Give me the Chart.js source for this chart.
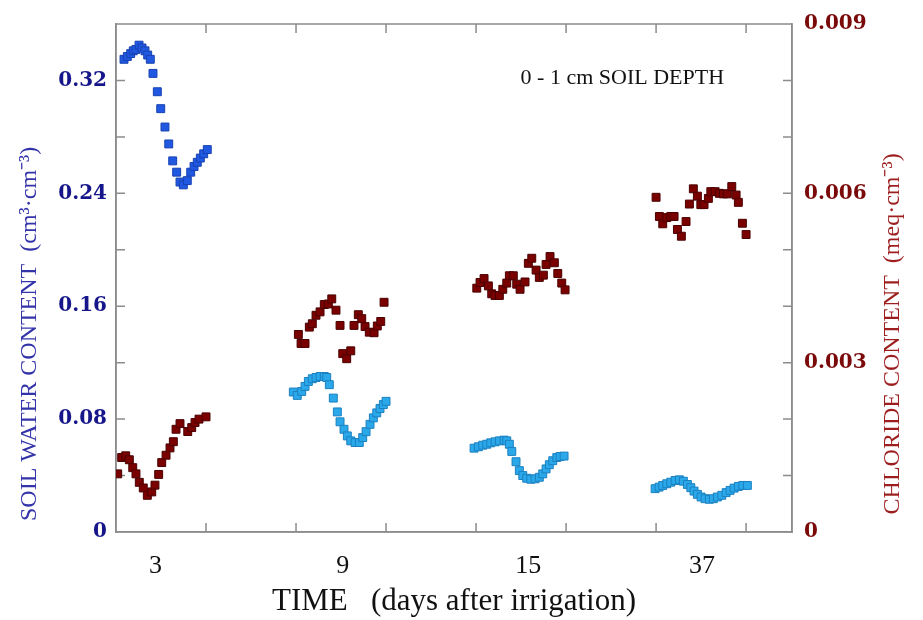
<!DOCTYPE html>
<html><head><meta charset="utf-8">
<script src="https://cdn.jsdelivr.net/npm/chart.js@4.4.1/dist/chart.umd.min.js"></script>
<style>html,body{margin:0;padding:0;background:#fff;}</style>
</head><body>
<canvas id="c" width="923" height="620"></canvas>
<script>
// ---- tick labels / categories / texts ----
const dayLabels = ['3', '9', '15', '37'];
const dayLabelPos = [0.44, 2.52, 4.58, 6.51];
const waterTicks = [0, 0.08, 0.16, 0.24, 0.32];
const chlorideTicks = [0, 0.003, 0.006, 0.009];
const panelNote = '0 - 1 cm SOIL DEPTH';
const waterTitle = 'SOIL WATER CONTENT  (cm³·cm⁻³)';
const chlorideTitle = 'CHLORIDE CONTENT  (meq·cm⁻³)';
const timeTitle = 'TIME   (days after irrigation)';

// ---- day 3 ----
const water3T = [0.089,0.126,0.163,0.192,0.222,0.256,0.289,0.322,0.352,0.381,0.411,0.459,0.497,0.544,0.586,0.630,0.674,0.711,0.748,0.792,0.830,0.867,0.903,0.937,0.974,1.014];
const water3V = [0.335,0.337,0.339,0.341,0.342,0.345,0.343,0.341,0.338,0.335,0.325,0.312,0.300,0.287,0.275,0.263,0.255,0.248,0.246,0.249,0.255,0.259,0.262,0.265,0.268,0.271];
const chloride3T = [0.019,0.063,0.108,0.148,0.186,0.222,0.259,0.303,0.348,0.397,0.433,0.474,0.508,0.556,0.600,0.637,0.667,0.711,0.797,0.841,0.878,0.922,1.0];
const chloride3V = [0.00103,0.00132,0.00135,0.00128,0.00114,0.00103,0.00088,0.00078,0.00065,0.00071,0.00083,0.00102,0.00123,0.00136,0.00149,0.00160,0.00182,0.00192,0.00178,0.00185,0.00194,0.00200,0.00204];

// ---- day 9 ----
const water9T = [1.970,2.014,2.063,2.100,2.137,2.181,2.222,2.267,2.314,2.341,2.370,2.414,2.459,2.489,2.533,2.570,2.608,2.656,2.703,2.741,2.778,2.822,2.859,2.897,2.933,2.970,3.000];
const water9V = [0.0992,0.0968,0.0996,0.1032,0.1067,0.1086,0.1095,0.1102,0.1102,0.1095,0.1044,0.0949,0.0851,0.0781,0.0728,0.0681,0.0646,0.0634,0.0634,0.0669,0.0711,0.0763,0.0809,0.0844,0.0875,0.0903,0.0926];
const chloride9T = [2.026,2.056,2.100,2.148,2.181,2.222,2.267,2.314,2.359,2.397,2.444,2.489,2.519,2.563,2.608,2.644,2.692,2.730,2.767,2.814,2.867,2.903,2.941,2.978];
const chloride9V = [0.00350,0.00334,0.00334,0.00363,0.00369,0.00384,0.00390,0.00403,0.00404,0.00413,0.00393,0.00366,0.00316,0.00307,0.00321,0.00366,0.00385,0.00378,0.00364,0.00354,0.00353,0.00365,0.00373,0.00407];

// ---- day 15 ----
const water15T = [3.978,4.026,4.074,4.119,4.163,4.211,4.259,4.311,4.341,4.370,4.397,4.444,4.481,4.519,4.563,4.608,4.656,4.703,4.741,4.778,4.814,4.852,4.897,4.933,4.978];
const water15V = [0.0594,0.0604,0.0615,0.0622,0.0632,0.0639,0.0646,0.0651,0.0646,0.0622,0.0571,0.0498,0.0435,0.0400,0.0381,0.0374,0.0377,0.0388,0.0412,0.0447,0.0477,0.0505,0.0528,0.0535,0.0538];
const chloride15T = [4.008,4.044,4.089,4.137,4.174,4.211,4.259,4.297,4.341,4.370,4.414,4.452,4.489,4.544,4.581,4.619,4.667,4.703,4.748,4.778,4.822,4.870,4.908,4.952,4.989];
const chloride15V = [0.00432,0.00442,0.00449,0.00436,0.00422,0.00419,0.00419,0.00430,0.00441,0.00454,0.00454,0.00439,0.00430,0.00443,0.00476,0.00485,0.00464,0.00451,0.00455,0.00474,0.00488,0.00477,0.00458,0.00441,0.00429];

// ---- day 37 ----
const water37T = [5.989,6.033,6.074,6.119,6.163,6.211,6.259,6.303,6.348,6.386,6.422,6.459,6.500,6.544,6.592,6.636,6.681,6.730,6.778,6.822,6.867,6.914,6.963,7.014];
const water37V = [0.0307,0.0318,0.0330,0.0342,0.0353,0.0365,0.0370,0.0360,0.0337,0.0314,0.0290,0.0267,0.0248,0.0236,0.0232,0.0236,0.0248,0.0260,0.0279,0.0295,0.0311,0.0323,0.0330,0.0330];
const chloride37T = [6.000,6.037,6.074,6.119,6.163,6.200,6.237,6.281,6.333,6.370,6.414,6.459,6.497,6.533,6.581,6.608,6.656,6.703,6.748,6.792,6.841,6.889,6.914,6.959,7.000];
const chloride37V = [0.00593,0.00559,0.00546,0.00557,0.00559,0.00559,0.00536,0.00524,0.00550,0.00581,0.00608,0.00595,0.00580,0.00580,0.00591,0.00603,0.00603,0.00600,0.00599,0.00599,0.00612,0.00597,0.00584,0.00547,0.00527];

const zip = (t, v) => t.map((x, i) => ({x: x, y: v[i]}));

const SERIF = "'Liberation Serif', 'Times New Roman', serif";
const NUMSERIF = "'DejaVu Serif', serif";
const DARKBLUE = '#2058e2', LIGHTBLUE = '#2aa8ea', DARKRED = '#7a0000';

function ds(label, t, v, fill, edge, axis) {
  return {label, data: zip(t, v), yAxisID: axis, showLine: false,
    pointStyle: 'rect', pointRadius: 5.6, pointHoverRadius: 5.6,
    pointBackgroundColor: fill, pointBorderColor: edge, pointBorderWidth: 1,
    backgroundColor: fill, borderColor: edge};
}

function vtext(ctx, text, x, y, color, font) {
  ctx.save();
  ctx.translate(x, y);
  ctx.rotate(-Math.PI / 2);
  ctx.fillStyle = color;
  ctx.font = font;
  ctx.textAlign = 'center';
  ctx.textBaseline = 'middle';
  ctx.fillText(text, 0, 0);
  ctx.restore();
}

const frame = {
  id: 'frame',
  beforeDatasetsDraw(chart) {
    const {ctx, chartArea: a, scales} = chart;
    ctx.save();
    ctx.strokeStyle = '#8c8c8c';
    ctx.lineWidth = 1.5;
    ctx.strokeRect(a.left, a.top, a.right - a.left, a.bottom - a.top);
    ctx.beginPath();
    const L = 9;
    for (let k = 1; k <= 7; k++) {
      const x = scales.x.getPixelForValue(k);
      ctx.moveTo(x, a.bottom); ctx.lineTo(x, a.bottom - L);
      ctx.moveTo(x, a.top); ctx.lineTo(x, a.top + L);
    }
    for (let k = 1; k <= 8; k++) {
      const y = scales.y.getPixelForValue(k * 0.04);
      ctx.moveTo(a.left, y); ctx.lineTo(a.left + L, y);
    }
    for (let k = 1; k <= 8; k++) {
      const y = scales.y2.getPixelForValue(k * 0.001);
      ctx.moveTo(a.right, y); ctx.lineTo(a.right - L, y);
    }
    ctx.stroke();
    ctx.restore();
  },
  afterDraw(chart) {
    const {ctx, chartArea: a} = chart;
    const h = a.bottom - a.top;
    ctx.save();
    ctx.fillStyle = '#111';
    ctx.font = "22px " + SERIF;
    ctx.textAlign = 'center';
    ctx.textBaseline = 'middle';
    ctx.fillText(panelNote, a.left + (a.right - a.left) * 0.749, a.top + 54);
    ctx.restore();
    vtext(ctx, waterTitle, 30, a.top + h * 0.61, '#3434aa', "24px " + SERIF);
    vtext(ctx, chlorideTitle, a.right + 101, a.top + h * 0.61, '#9c1e1e', "24px " + SERIF);
  }
};

new Chart(document.getElementById('c'), {
  type: 'scatter',
  data: {
    datasets: [
      ds('Soil water, day 3', water3T, water3V, DARKBLUE, '#1740b0', 'y'),
      ds('Soil water, day 9', water9T, water9V, LIGHTBLUE, '#1b80c0', 'y'),
      ds('Soil water, day 15', water15T, water15V, LIGHTBLUE, '#1b80c0', 'y'),
      ds('Soil water, day 37', water37T, water37V, LIGHTBLUE, '#1b80c0', 'y'),
      ds('Chloride, day 3', chloride3T, chloride3V, DARKRED, '#4a0000', 'y2'),
      ds('Chloride, day 9', chloride9T, chloride9V, DARKRED, '#4a0000', 'y2'),
      ds('Chloride, day 15', chloride15T, chloride15V, DARKRED, '#4a0000', 'y2'),
      ds('Chloride, day 37', chloride37T, chloride37V, DARKRED, '#4a0000', 'y2')
    ]
  },
  options: {
    responsive: false,
    animation: false,
    devicePixelRatio: 1,
    layout: {padding: {top: 19, left: 0, right: 0, bottom: 0}},
    plugins: {legend: {display: false}, tooltip: {enabled: false}},
    scales: {
      x: {
        type: 'linear', position: 'bottom', min: 0, max: 7.51,
        afterBuildTicks: s => { s.ticks = dayLabelPos.map(v => ({value: v})); },
        afterFit: s => { s.height = 88; },
        ticks: {callback: (v, i) => dayLabels[i], color: '#111', padding: 19,
          maxRotation: 0, autoSkip: false, font: {family: SERIF, size: 26}},
        grid: {display: false, drawTicks: false},
        border: {color: '#8c8c8c', width: 1.5},
        title: {display: true, text: timeTitle, color: '#111',
          font: {family: SERIF, size: 31}, padding: {top: 0, bottom: 0}}
      },
      y: {
        type: 'linear', position: 'left', min: 0, max: 0.36,
        afterBuildTicks: s => { s.ticks = waterTicks.map(v => ({value: v})); },
        afterFit: s => { s.width = 116; },
        ticks: {callback: v => v === 0 ? '0' : v.toFixed(2), color: '#16168a', padding: 9,
          font: {family: NUMSERIF, size: 20, weight: 'bold'}},
        grid: {display: false, drawTicks: false},
        border: {color: '#8c8c8c', width: 1.5},
        title: {display: false}
      },
      y2: {
        type: 'linear', position: 'right', min: 0, max: 0.009,
        afterBuildTicks: s => { s.ticks = chlorideTicks.map(v => ({value: v})); },
        afterFit: s => { s.width = 131; },
        ticks: {callback: v => v === 0 ? '0' : v.toFixed(3), color: '#7a0a0a', padding: 12,
          font: {family: NUMSERIF, size: 20, weight: 'bold'}},
        grid: {display: false, drawTicks: false},
        border: {color: '#8c8c8c', width: 1.5},
        title: {display: false}
      }
    }
  },
  plugins: [frame]
});
</script>
</body></html>
